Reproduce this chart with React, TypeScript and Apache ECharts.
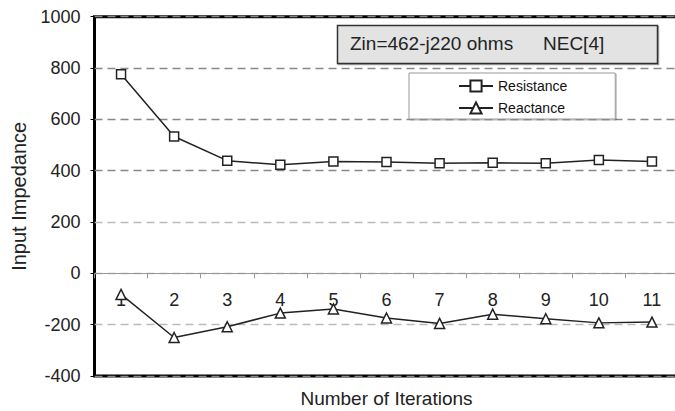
import React, { useEffect, useRef } from "react";
import * as echarts from "echarts";

const iterations = ["1", "2", "3", "4", "5", "6", "7", "8", "9", "10", "11"];
const resistance = [776, 533, 439, 423, 436, 434, 429, 431, 429, 442, 436];
const reactance = [-82, -250, -208, -155, -139, -174, -195, -159, -177, -193, -190];
const yTicks = { min: -400, max: 1000, interval: 200 };
const annotation = ["Zin=462-j220 ohms", "NEC[4]"];

const FONT = "'Liberation Sans', Arial, sans-serif";

export default function App() {
  const ref = useRef<HTMLDivElement>(null);
  useEffect(() => {
    if (!ref.current) return;
    const chart = echarts.init(ref.current, undefined, { renderer: "svg" });
    const lineColor = "#222";
    const gridTop = 16.7;
    const gridBottom = 35;
    const gridHeight = 411 - gridTop - gridBottom;
    const zeroOffset = -gridHeight * (0 - yTicks.min) / (yTicks.max - yTicks.min);
    chart.setOption({
      animation: false,
      backgroundColor: "#fff",
      textStyle: { fontFamily: FONT },
      grid: {
        left: 94.5,
        right: -3.5,
        top: gridTop,
        bottom: gridBottom,
        containLabel: false,
        outerBoundsMode: "none",
        show: true,
        borderColor: "#000",
        borderWidth: 3,
        backgroundColor: "transparent",
      },
      legend: {
        orient: "vertical",
        left: 409,
        top: 73,
        padding: [6, 48, 4, 49],
        itemWidth: 34,
        itemHeight: 14,
        itemGap: 8,
        borderColor: "#999",
        borderWidth: 1,
        backgroundColor: "#fff",
        shadowColor: "rgba(0,0,0,0.25)",
        shadowOffsetX: 1,
        shadowOffsetY: 1,
        shadowBlur: 1,
        textStyle: { fontSize: 14, color: "#111", fontFamily: FONT },
        data: ["Resistance", "Reactance"],
      },
      xAxis: {
        type: "category",
        data: iterations,
        boundaryGap: true,
        offset: zeroOffset,
        name: "Number of Iterations",
        nameLocation: "middle",
        nameGap: 116,
        nameTextStyle: { fontSize: 19, color: "#222", fontFamily: FONT },
        axisLine: { show: true, onZero: false, lineStyle: { color: "#999", width: 1 } },
        axisTick: { show: true, length: 5, lineStyle: { color: "#999" } },
        axisLabel: { fontSize: 18, color: "#222", margin: 18, fontFamily: FONT },
        splitLine: { show: false },
      },
      yAxis: {
        type: "value",
        min: yTicks.min,
        max: yTicks.max,
        interval: yTicks.interval,
        name: "Input Impedance",
        nameLocation: "middle",
        nameGap: 66,
        nameTextStyle: { fontSize: 20, color: "#222", fontFamily: FONT },
        axisLine: { show: false },
        axisTick: { show: true, length: 4, lineStyle: { color: "#000", width: 1 } },
        axisLabel: {
          fontSize: 18,
          color: "#222",
          margin: 14,
          fontFamily: FONT,
          formatter: (v: number) => String(v),
        },
        splitLine: {
          show: true,
          lineStyle: {
            color: ["#888", "#bbb", "#bbb", "#bbb", "#888", "#888", "#888", "#888"],
            type: [8, 5],
            width: 1.3,
          },
        },
      },
      graphic: [
        {
          type: "rect",
          shape: { x: 337.5, y: 25.5, width: 320, height: 38 },
          style: {
            fill: "#e3e3e3",
            stroke: "#333",
            lineWidth: 1.5,
            shadowColor: "rgba(0,0,0,0.35)",
            shadowOffsetX: 1,
            shadowOffsetY: 1,
            shadowBlur: 1,
          },
          z: 10,
        },
        {
          type: "text",
          x: 350,
          y: 43,
          style: {
            text: annotation[0],
            fontSize: 19,
            fontFamily: FONT,
            fill: "#222",
            verticalAlign: "middle",
          },
          z: 11,
        },
        {
          type: "text",
          x: 543,
          y: 43,
          style: {
            text: annotation[1],
            fontSize: 19,
            fontFamily: FONT,
            fill: "#222",
            verticalAlign: "middle",
          },
          z: 11,
        },
      ],
      series: [
        {
          name: "Resistance",
          type: "line",
          data: resistance,
          symbol: "rect",
          symbolSize: 9,
          lineStyle: { color: lineColor, width: 1.5 },
          itemStyle: { color: "#fff", borderColor: lineColor, borderWidth: 1.5 },
          z: 5,
        },
        {
          name: "Reactance",
          type: "line",
          data: reactance,
          symbol: "triangle",
          symbolSize: 10,
          lineStyle: { color: lineColor, width: 1.5 },
          itemStyle: { color: "#fff", borderColor: lineColor, borderWidth: 1.5 },
          z: 5,
        },
      ],
    });
    return () => chart.dispose();
  }, []);
  return <div ref={ref} style={{ width: 675, height: 411, position: "absolute", left: 0, top: 0 }} />;
}
